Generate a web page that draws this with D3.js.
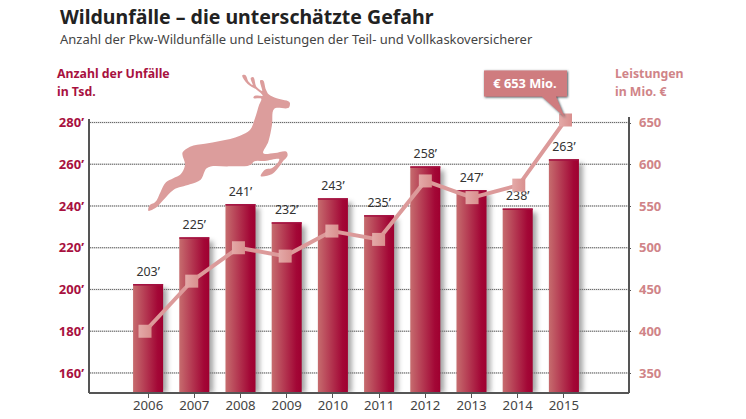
<!DOCTYPE html>
<html>
<head>
<meta charset="utf-8">
<script src="https://d3js.org/d3.v7.min.js"></script>
<style>
  html, body { margin: 0; padding: 0; background: #fff; }
  svg { display: block; font-family: "Noto Sans", sans-serif; }
  .axis path, .axis line { shape-rendering: crispEdges; }
</style>
</head>
<body>
<svg id="chart" width="746" height="419"></svg>
<script>
const years = ["2006","2007","2008","2009","2010","2011","2012","2013","2014","2015"];
// printed labels, and the bar heights as they are actually drawn in the picture
const accidentLabels = [203,225,241,232,243,235,258,247,238,263];
const accidents = [202.6,225,240.9,232.2,243.7,235.6,259,247.6,238.8,262.4];
const payouts = [400,460,500,490,520,510,580,560,575,653];
const leftTicks = [160,180,200,220,240,260,280];
const rightTicks = [350,400,450,500,550,600,650];

// deer silhouette (decoration, not data)
const deerOutline = [
  [25,437],[28,422],[45,412],[62,380],[78,352],[100,340],[122,328],[135,300],[128,262],[150,245],
  [195,236],[240,228],[300,212],[330,195],[345,160],[358,118],[364,102],[340,98],[342,94],[368,92],
  [350,74],[322,56],[308,30],[315,30],[326,50],[338,60],[333,38],[338,36],[350,66],[366,78],
  [362,45],[367,45],[378,74],[386,88],[410,100],[450,115],[448,126],[403,131],[396,180],[385,230],
  [370,265],[405,264],[441,262],[443,270],[428,290],[412,312],[395,328],[362,333],[375,314],[395,310],
  [418,283],[375,288],[340,291],[336,296],[270,304],[200,310],[182,344],[150,358],[100,375],[70,405],
  [45,430]
];

const red = "#a8113f", pink = "#d08488";
const svg = d3.select("#chart");
const defs = svg.append("defs");

const grad = defs.append("linearGradient").attr("id", "barFill");
grad.append("stop").attr("offset", "0%").attr("stop-color", "#c66c6e");
grad.append("stop").attr("offset", "82%").attr("stop-color", "#a30736");
grad.append("stop").attr("offset", "100%").attr("stop-color", "#9f0030");

const markerGrad = defs.append("linearGradient").attr("id", "markerFill");
markerGrad.append("stop").attr("offset", "0%").attr("stop-color", "#e4aaa8");
markerGrad.append("stop").attr("offset", "100%").attr("stop-color", "#d98f8e");

const blur = defs.append("filter").attr("id", "barShadow")
  .attr("x", "-20%").attr("width", "160%");
blur.append("feGaussianBlur").attr("stdDeviation", 2.4);

const tipShadow = defs.append("filter").attr("id", "tipShadow")
  .attr("x", "-20%").attr("y", "-20%").attr("width", "140%").attr("height", "140%");
tipShadow.append("feDropShadow").attr("dx", 0.8).attr("dy", 0.8)
  .attr("stdDeviation", 1).attr("flood-color", "#34444c").attr("flood-opacity", 1);

// scales
const x = d3.scaleBand().domain(years).range([125, 587]).paddingInner(0.35).paddingOuter(0.175);
const xLine = d3.scalePoint().domain(years).range([145, 565.5]);
const yLeft = d3.scaleLinear().domain([150.4, 280]).range([393, 122.5]);
const yRight = d3.scaleLinear().domain([350, 650]).range([373, 122.5]);

// titles
svg.append("text").attr("x", 60).attr("y", 24)
  .attr("font-size", 19.5).attr("font-weight", 700).attr("fill", "#222")
  .text("Wildunfälle – die unterschätzte Gefahr");
svg.append("text").attr("x", 60).attr("y", 44)
  .attr("font-size", 12.98).attr("fill", "#444")
  .text("Anzahl der Pkw-Wildunfälle und Leistungen der Teil- und Vollkaskoversicherer");

svg.append("text").attr("x", 57).attr("y", 78)
  .attr("font-size", 12.3).attr("font-weight", 700).attr("fill", red).text("Anzahl der Unfälle");
svg.append("text").attr("x", 57).attr("y", 96)
  .attr("font-size", 12.3).attr("font-weight", 700).attr("fill", red).text("in Tsd.");
svg.append("text").attr("x", 615).attr("y", 78)
  .attr("font-size", 12.3).attr("font-weight", 700).attr("fill", pink).text("Leistungen");
svg.append("text").attr("x", 615).attr("y", 96)
  .attr("font-size", 12.3).attr("font-weight", 700).attr("fill", pink).text("in Mio. €");

// gridlines
const grid = svg.append("g");
grid.selectAll(".shade").data(leftTicks).join("line")
  .attr("x1", 90).attr("x2", 629)
  .attr("y1", d => yLeft(d)).attr("y2", d => yLeft(d))
  .attr("stroke", "#d4d4d4").attr("stroke-width", 1.6);
grid.selectAll(".dots").data(leftTicks).join("line")
  .attr("x1", 90).attr("x2", 629)
  .attr("y1", d => yLeft(d)).attr("y2", d => yLeft(d))
  .attr("stroke", "#6a6a6a").attr("stroke-width", 1).attr("stroke-dasharray", "1 1");

// deer
svg.append("path")
  .attr("transform", "translate(140,65) scale(0.3333)")
  .attr("d", d3.line().curve(d3.curveCatmullRomClosed.alpha(0.9))(deerOutline))
  .attr("fill", "#dc9d9c");

// bars with soft shadow on the right
svg.append("g").selectAll("rect").data(years).join("rect")
  .attr("x", d => x(d) + 4).attr("width", x.bandwidth())
  .attr("y", (d, i) => yLeft(accidents[i]) + 4)
  .attr("height", (d, i) => 393 - yLeft(accidents[i]) - 4)
  .attr("fill", "#808080").attr("opacity", 0.7)
  .attr("filter", "url(#barShadow)");

// white strip hides shadow blur below the axis
svg.append("rect").attr("x", 90).attr("y", 393).attr("width", 539).attr("height", 8).attr("fill", "#fff");

svg.append("g").selectAll("rect").data(years).join("rect")
  .attr("x", d => x(d)).attr("width", x.bandwidth())
  .attr("y", (d, i) => yLeft(accidents[i]))
  .attr("height", (d, i) => 393 - yLeft(accidents[i]))
  .attr("fill", "url(#barFill)");

svg.append("g").selectAll("rect").data(years).join("rect")
  .attr("x", d => x(d)).attr("width", x.bandwidth())
  .attr("y", (d, i) => yLeft(accidents[i]))
  .attr("height", 1.5)
  .attr("fill", "#a31040");

// bar labels
svg.append("g").selectAll("text").data(years).join("text")
  .attr("x", d => x(d) + x.bandwidth() / 2)
  .attr("y", (d, i) => yLeft(accidents[i]) - 8)
  .attr("text-anchor", "middle")
  .attr("font-size", 12.4).attr("fill", "#333")
  .text((d, i) => accidentLabels[i] + "’");

// axes
const leftAxis = svg.append("g").attr("class", "axis")
  .attr("transform", "translate(89,0)")
  .call(d3.axisLeft(yLeft).tickValues(leftTicks).tickSize(0).tickPadding(5).tickFormat(d => d + "’"));
leftAxis.select(".domain").attr("stroke", "#555").attr("stroke-width", 1.2).attr("d", "M0,119V393");
leftAxis.selectAll("text").attr("font-family", "'Noto Sans', sans-serif")
  .attr("font-size", 13).attr("font-weight", 700).attr("fill", red);

const rightAxis = svg.append("g").attr("class", "axis")
  .attr("transform", "translate(629,0)")
  .call(d3.axisRight(yRight).tickValues(rightTicks).tickSize(2).tickPadding(8));
rightAxis.select(".domain").attr("stroke", "#555").attr("stroke-width", 1.2)
  .attr("d", "M0,117V393");
rightAxis.selectAll("line").attr("stroke", "#555");
rightAxis.selectAll("text").attr("font-family", "'Noto Sans', sans-serif")
  .attr("font-size", 13).attr("font-weight", 700).attr("fill", pink);

const bottomAxis = svg.append("g").attr("class", "axis")
  .attr("transform", "translate(0,393)")
  .call(d3.axisBottom(x).tickSize(5).tickPadding(3));
bottomAxis.select(".domain").attr("stroke", "#555").attr("stroke-width", 1.2)
  .attr("d", "M89,0H629");
bottomAxis.selectAll("line").attr("stroke", "#555");
bottomAxis.selectAll("text").attr("font-family", "'Noto Sans', sans-serif")
  .attr("font-size", 13.2).attr("fill", "#444");

// payout line
const line = d3.line().x((d, i) => xLine(years[i])).y(d => yRight(d));
svg.append("path").datum(payouts)
  .attr("d", line).attr("fill", "none")
  .attr("stroke", "#dc9a9a").attr("stroke-width", 4);

const markerSize = 13;
svg.append("g").selectAll("rect").data(years).join("rect")
  .attr("x", d => xLine(d) - markerSize / 2)
  .attr("y", (d, i) => yRight(payouts[i]) - markerSize / 2)
  .attr("width", markerSize).attr("height", markerSize)
  .attr("fill", "url(#markerFill)");

// callout for the last point
const last = years.length - 1;
const tipX = xLine(years[last]), tipY = yRight(payouts[last]);
svg.append("path")
  .attr("d", `M484,70.5H567V96.5H556L${tipX - 1},${tipY - 3}L542,96.5H484Z`)
  .attr("fill", "#cf7b7f").attr("filter", "url(#tipShadow)");
svg.append("text").attr("x", 525).attr("y", 87.5)
  .attr("text-anchor", "middle")
  .attr("font-size", 12.8).attr("font-weight", 700).attr("fill", "#fff")
  .text("€ " + payouts[last] + " Mio.");
</script>
</body>
</html>
